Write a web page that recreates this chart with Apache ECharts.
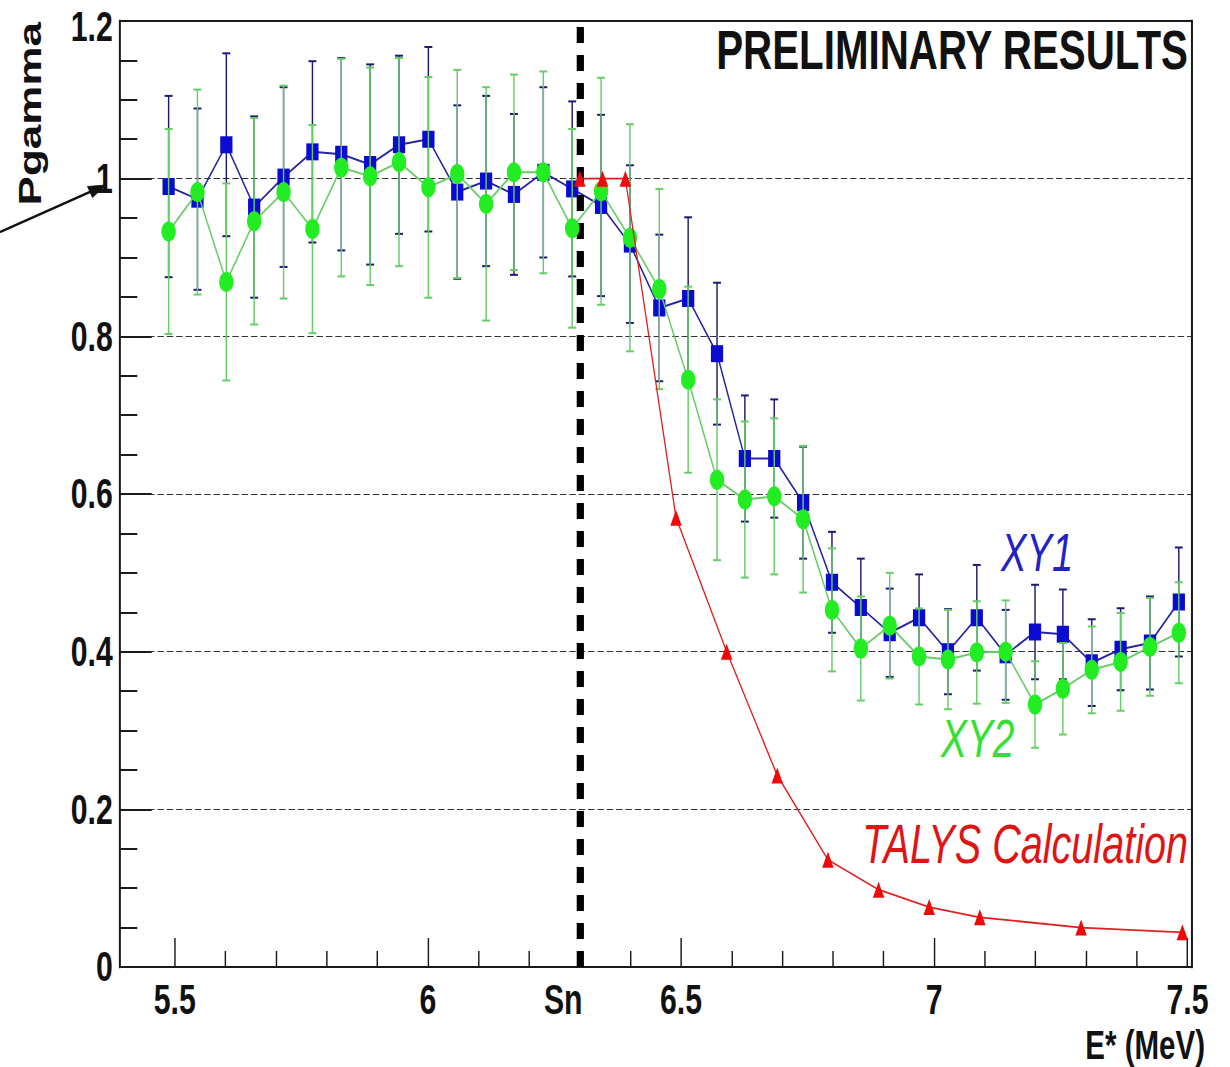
<!DOCTYPE html>
<html>
<head>
<meta charset="utf-8">
<script src="https://cdn.jsdelivr.net/npm/echarts@6.0.0/dist/echarts.min.js"></script>
<style>
  html, body { margin: 0; padding: 0; background: #fff; overflow: hidden; }
  #wrap { width: 1230px; height: 1067px; overflow: hidden; position: relative; }
  #c { position: absolute; left: 0; top: 0; height: 1067px; transform-origin: 0 0; }
</style>
</head>
<body>
<div id="wrap"><div id="c"></div></div>
<script>
// ---------------- data ----------------
const energy = [5.488, 5.545, 5.602, 5.657, 5.715, 5.772, 5.829, 5.886, 5.943, 6.001,
                6.058, 6.115, 6.170, 6.228, 6.285, 6.342, 6.399, 6.457, 6.514, 6.571,
                6.626, 6.684, 6.741, 6.798, 6.855, 6.912, 6.970, 7.027, 7.084, 7.141,
                7.199, 7.254, 7.311, 7.368, 7.426, 7.483];
const xy1 = [0.990, 0.974, 1.043, 0.964, 1.002, 1.034, 1.031, 1.018, 1.043, 1.050,
             0.983, 0.997, 0.980, 1.008, 0.987, 0.966, 0.917, 0.836, 0.848, 0.778,
             0.645, 0.645, 0.589, 0.488, 0.456, 0.424, 0.443, 0.400, 0.443, 0.396,
             0.425, 0.422, 0.386, 0.403, 0.411, 0.463];
const xy1Err = [0.115, 0.115, 0.116, 0.115, 0.114, 0.115, 0.122, 0.127, 0.113, 0.117,
                0.110, 0.108, 0.102, 0.108, 0.111, 0.115, 0.100, 0.093, 0.103, 0.090,
                0.080, 0.075, 0.071, 0.064, 0.062, 0.056, 0.055, 0.054, 0.067, 0.057,
                0.060, 0.057, 0.055, 0.052, 0.059, 0.069];
const xy2 = [0.933, 0.983, 0.869, 0.946, 0.983, 0.936, 1.014, 1.003, 1.021, 0.989,
             1.006, 0.968, 1.008, 1.008, 0.937, 0.984, 0.925, 0.860, 0.745, 0.618,
             0.593, 0.597, 0.568, 0.453, 0.404, 0.433, 0.394, 0.390, 0.399, 0.400,
             0.333, 0.353, 0.377, 0.387, 0.406, 0.424];
const xy2Err = [0.130, 0.130, 0.125, 0.131, 0.135, 0.132, 0.138, 0.138, 0.132, 0.140,
                0.132, 0.148, 0.124, 0.128, 0.126, 0.144, 0.144, 0.127, 0.118, 0.102,
                0.099, 0.099, 0.093, 0.078, 0.066, 0.067, 0.061, 0.063, 0.065, 0.065,
                0.055, 0.058, 0.055, 0.062, 0.062, 0.064];
const talysE = [6.30, 6.345, 6.39, 6.49, 6.59, 6.69, 6.79, 6.89, 6.99, 7.09, 7.29, 7.49];
const talys  = [1.000, 1.000, 1.000, 0.570, 0.400, 0.243, 0.136, 0.098, 0.076, 0.063, 0.050, 0.044];
const SN = 6.3;
const xLabelValues = [5.5, 6, 6.3, 6.5, 7, 7.5];
const xMajorTicks = [5.5, 6, 6.5, 7, 7.5];
const xMinorTicks = [5.6, 5.7, 5.8, 5.9, 6.1, 6.2, 6.3, 6.4, 6.6, 6.7, 6.8, 6.9, 7.1, 7.2, 7.3, 7.4];
const xRange = [5.392, 7.509];
const yRange = [0, 1.2];

// ---------------- layout ----------------
const S = 0.72;               // horizontal squeeze of the original picture
const W = 1230 / S;
const el = document.getElementById('c');
el.style.width = W + 'px';
el.style.transform = 'scaleX(' + S + ')';
const FONT = '"Liberation Sans", Arial, Helvetica, sans-serif';
const px = x => x / S;       // real x -> pre-squeeze x

function errBars(vals, errs) {
  return energy.map((e, i) => [e, vals[i], errs[i]]);
}
function barRenderer(color) {
  return function (params, api) {
    const x = api.value(0), y = api.value(1), e = api.value(2);
    const t = api.coord([x, y + e]);
    const b = api.coord([x, y - e]);
    const hw = 5.5;
    const st = { stroke: color, lineWidth: 2 };
    return {
      type: 'group',
      children: [
        { type: 'line', shape: { x1: t[0], y1: t[1], x2: b[0], y2: b[1] }, style: st },
        { type: 'line', shape: { x1: t[0] - hw, y1: t[1], x2: t[0] + hw, y2: t[1] }, style: st },
        { type: 'line', shape: { x1: b[0] - hw, y1: b[1], x2: b[0] + hw, y2: b[1] }, style: st }
      ]
    };
  };
}

const chart = echarts.init(el, null, { renderer: 'svg', width: W, height: 1067 });

const frameColor = '#1a1a1a';
const labelStyle = { fontFamily: FONT, fontWeight: 'bold', fontSize: 42, color: '#111' };
const option = {
  animation: false,
  backgroundColor: '#ffffff',
  grid: { left: px(120), right: px(1230 - 1192), top: 21, bottom: 100, containLabel: false },
  xAxis: [
    {
      type: 'value', min: xRange[0], max: xRange[1], position: 'bottom',
      axisLine: { show: true, onZero: false, lineStyle: { color: frameColor, width: 2 } },
      axisTick: { show: true, inside: true, length: 29, customValues: xMajorTicks,
                  lineStyle: { color: frameColor, width: 2 } },
      axisLabel: Object.assign({
        show: true, customValues: xLabelValues, margin: 12,
        formatter: v => (Math.abs(v - SN) < 1e-6 ? '{sn|Sn}' : String(v)),
        rich: { sn: Object.assign({ padding: [0, 46, 0, 0] }, labelStyle) }
      }, labelStyle),
      splitLine: { show: false }
    },
    {
      type: 'value', min: xRange[0], max: xRange[1], position: 'bottom',
      axisLine: { show: false },
      axisTick: { show: true, inside: true, length: 16, customValues: xMinorTicks,
                  lineStyle: { color: frameColor, width: 2 } },
      axisLabel: { show: false },
      splitLine: { show: false }
    },
    {
      type: 'value', min: xRange[0], max: xRange[1], position: 'top',
      axisLine: { show: true, onZero: false, lineStyle: { color: frameColor, width: 2 } },
      axisTick: { show: false }, axisLabel: { show: false }, splitLine: { show: false }
    }
  ],
  yAxis: [
    {
      type: 'value', min: yRange[0], max: yRange[1], interval: 0.2, position: 'left',
      axisLine: { show: true, onZero: false, lineStyle: { color: frameColor, width: 2.8 } },
      axisTick: { show: true, inside: true, length: 44, lineStyle: { color: frameColor, width: 2 } },
      minorTick: { show: true, splitNumber: 4, length: 24, lineStyle: { color: frameColor, width: 2 } },
      axisLabel: Object.assign({
        show: true, margin: 10,
        formatter: v => (Math.abs(v - yRange[1]) < 1e-6 ? '{top|' + (+v.toFixed(1)) + '}' : String(+v.toFixed(1))),
        rich: { top: Object.assign({ padding: [12, 0, 0, 0] }, labelStyle) }
      }, labelStyle),
      splitLine: { show: true, lineStyle: { color: '#111', width: 1, type: [9, 4] } }
    },
    {
      type: 'value', min: yRange[0], max: yRange[1], position: 'right',
      axisLine: { show: true, onZero: false, lineStyle: { color: frameColor, width: 2.8 } },
      axisTick: { show: false }, axisLabel: { show: false }, splitLine: { show: false }
    }
  ],
  series: [
    {
      name: 'XY1 errors', type: 'custom', z: 2, silent: true,
      renderItem: barRenderer('#1c1c6e'),
      data: errBars(xy1, xy1Err),
      encode: { x: 0, y: 1 }
    },
    {
      name: 'XY1', type: 'line', z: 3,
      data: energy.map((e, i) => [e, xy1[i]]),
      symbol: 'rect', symbolSize: 17,
      itemStyle: { color: '#0a0ad2' },
      lineStyle: { color: '#26269e', width: 2 }
    },
    {
      name: 'XY2 errors', type: 'custom', z: 4, silent: true,
      renderItem: barRenderer('#66cc66'),
      data: errBars(xy2, xy2Err),
      encode: { x: 0, y: 1 }
    },
    {
      name: 'XY2', type: 'line', z: 5,
      data: energy.map((e, i) => [e, xy2[i]]),
      symbol: 'circle', symbolSize: 20,
      itemStyle: { color: '#22ec22' },
      lineStyle: { color: '#66cc66', width: 2 }
    },
    {
      name: 'TALYS Calculation', type: 'line', z: 6,
      data: talysE.map((e, i) => [e, talys[i]]),
      smooth: false,
      symbol: 'triangle', symbolSize: 16,
      itemStyle: { color: '#ee0a0a' },
      lineStyle: { color: '#e02020', width: 1.8 }
    },
    {
      name: 'Sn', type: 'line', z: 10, data: [],
      markLine: {
        silent: true, symbol: ['none', 'none'], animation: false,
        label: { show: false },
        lineStyle: { color: '#000', width: 10, type: [16, 12] },
        data: [{ xAxis: SN }]
      }
    }
  ],
  graphic: [
    { type: 'text', x: px(1188), y: 49, z: 20,
      style: { text: 'PRELIMINARY RESULTS', font: 'bold 56px ' + FONT, fill: '#111',
               textAlign: 'right', align: 'right', textVerticalAlign: 'middle', verticalAlign: 'middle' } },
    { type: 'text', x: px(1001), y: 553, z: 20,
      style: { text: 'XY1', font: 'italic 53px ' + FONT, fill: '#2222c4',
               textAlign: 'left', align: 'left', textVerticalAlign: 'middle', verticalAlign: 'middle' } },
    { type: 'text', x: px(941), y: 738, z: 20,
      style: { text: 'XY2', font: 'italic 54px ' + FONT, fill: '#33e033',
               textAlign: 'left', align: 'left', textVerticalAlign: 'middle', verticalAlign: 'middle' } },
    { type: 'text', x: px(1188), y: 844, z: 20,
      style: { text: 'TALYS Calculation', font: 'italic 55px ' + FONT, fill: '#dd1515',
               textAlign: 'right', align: 'right', textVerticalAlign: 'middle', verticalAlign: 'middle' } },
    { type: 'text', x: px(1205), y: 1045, z: 20,
      style: { text: 'E* (MeV)', font: 'bold 41px ' + FONT, fill: '#111',
               textAlign: 'right', align: 'right', textVerticalAlign: 'middle', verticalAlign: 'middle' } },
    { type: 'text', x: px(30), y: 22, rotation: Math.PI / 2, z: 20,
      style: { text: 'Pgamma', font: 'bold 44px ' + FONT, fill: '#111',
               textAlign: 'right', align: 'right', textVerticalAlign: 'middle', verticalAlign: 'middle' } },
    { type: 'polyline', z: 20,
      shape: { points: [[px(0), 232], [px(92), 191]] },
      style: { stroke: '#111', lineWidth: 2.4, fill: null } },
    { type: 'polygon', z: 20,
      shape: { points: [[px(106), 185], [px(87.5), 186.5], [px(92.5), 197.5]] },
      style: { fill: '#111', stroke: '#111', lineWidth: 1 } }
  ]
};
chart.setOption(option);
</script>
</body>
</html>
